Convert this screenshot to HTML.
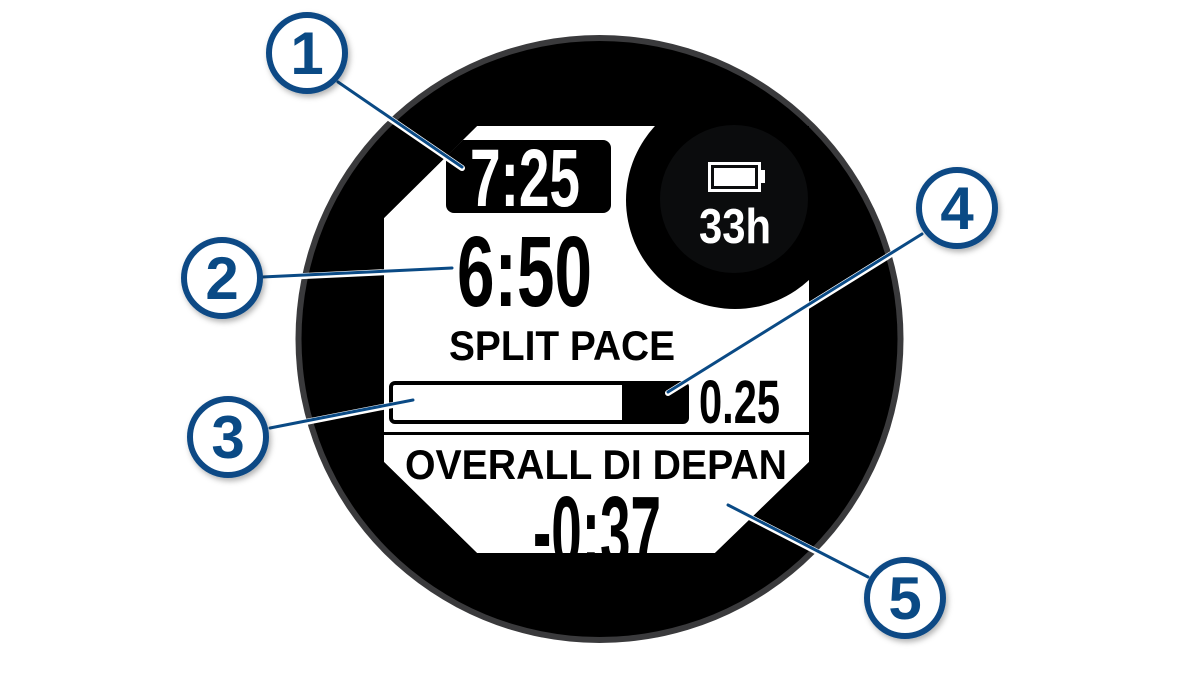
<!DOCTYPE html>
<html><head><meta charset="utf-8"><style>html,body{margin:0;padding:0;background:#fff;overflow:hidden}svg{display:block}</style></head>
<body>
<svg width="1201" height="676" viewBox="0 0 1201 676" xmlns="http://www.w3.org/2000/svg" font-family="Liberation Sans, sans-serif" font-weight="bold">
<defs>
<clipPath id="scr"><polygon points="384,218 477,126 809,126 809,462 715,553 477,553 384,462"/></clipPath>
<filter id="sh" x="-30%" y="-30%" width="160%" height="160%"><feDropShadow dx="2" dy="3" stdDeviation="3" flood-color="#000" flood-opacity="0.3"/></filter>
</defs>
<circle cx="599.5" cy="339" r="304" fill="#3a3a3c"/>
<circle cx="599.5" cy="339" r="298" fill="#000"/>
<g clip-path="url(#scr)">
<polygon points="384,218 477,126 809,126 809,462 715,553 477,553 384,462" fill="#fff"/>
<circle cx="735" cy="200" r="109" fill="#000"/>
<rect x="446" y="140" width="165" height="73" rx="8" fill="#000"/>
<text x="470" y="206" font-size="82" fill="#fff" textLength="110" lengthAdjust="spacingAndGlyphs">7:25</text>
<text x="457" y="306" font-size="100" fill="#000" textLength="135" lengthAdjust="spacingAndGlyphs">6:50</text>
<text x="449" y="360" font-size="42" fill="#000" textLength="226" lengthAdjust="spacingAndGlyphs">SPLIT PACE</text>
<rect x="391" y="383" width="296" height="39" rx="4" fill="#fff" stroke="#000" stroke-width="4"/>
<rect x="622" y="383" width="65" height="39" fill="#000"/>
<text x="699" y="423" font-size="61" fill="#000" textLength="81" lengthAdjust="spacingAndGlyphs">0.25</text>
<rect x="384" y="432" width="425" height="3" fill="#000"/>
<text x="405" y="479" font-size="42" fill="#000" textLength="382" lengthAdjust="spacingAndGlyphs">OVERALL DI DEPAN</text>
<text x="533" y="566" font-size="100" fill="#000" textLength="128" lengthAdjust="spacingAndGlyphs">-0:37</text>
</g>
<circle cx="734" cy="199" r="74" fill="#0b0c0d"/>
<rect x="709.5" y="163.5" width="50" height="27" fill="none" stroke="#fff" stroke-width="3"/>
<rect x="714" y="168" width="41" height="18" fill="#fff"/>
<rect x="761" y="170" width="4" height="13" fill="#fff"/>
<text x="699" y="243" font-size="49" fill="#fff" textLength="72" lengthAdjust="spacingAndGlyphs">33h</text>
<g stroke-linecap="round">
<g stroke="#fff" stroke-width="6">
<line x1="338" y1="83" x2="462" y2="168"/>
<line x1="262" y1="278" x2="452" y2="269"/>
<line x1="270" y1="429" x2="413" y2="401"/>
<line x1="922" y1="235" x2="668" y2="393"/>
<line x1="868" y1="578" x2="728" y2="506"/>
</g>
<g stroke="#0a4a85" stroke-width="3">
<line x1="338" y1="82" x2="462" y2="167"/>
<line x1="262" y1="277" x2="452" y2="268"/>
<line x1="270" y1="428" x2="413" y2="400"/>
<line x1="922" y1="234" x2="668" y2="392"/>
<line x1="868" y1="577" x2="728" y2="505"/>
</g>
</g>
<g fill="#fff" stroke="#0a4a85" stroke-width="6" filter="url(#sh)">
<circle cx="307" cy="53" r="38"/>
<circle cx="222" cy="278" r="38"/>
<circle cx="228" cy="437" r="38"/>
<circle cx="957" cy="208" r="38"/>
<circle cx="905" cy="598" r="38"/>
</g>
<g fill="#0a4a85" font-size="60" text-anchor="middle">
<text x="307" y="74">1</text>
<text x="222" y="299">2</text>
<text x="228" y="458">3</text>
<text x="957" y="229">4</text>
<text x="905" y="619">5</text>
</g>
</svg>
</body></html>
